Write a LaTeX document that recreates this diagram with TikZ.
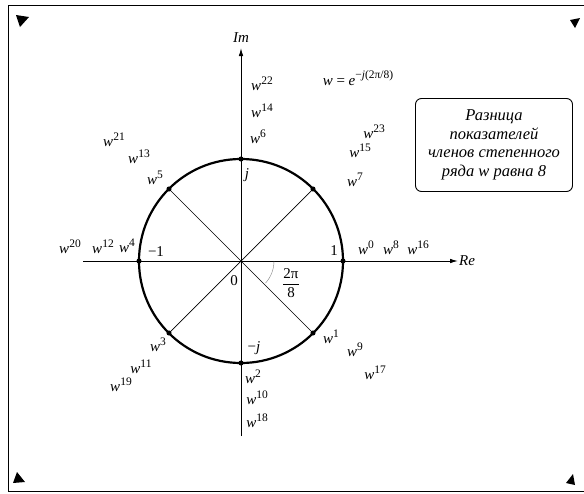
\documentclass[tikz,border=0pt]{standalone}
\usepackage{amsmath}
\usepackage{fontspec}
\setmainfont{Liberation Serif}
\usetikzlibrary{arrows.meta, positioning}
\newcommand{\supx}[1]{\raisebox{0.42em}{\fontsize{11.5}{12}\selectfont #1}}
\newcommand{\wpow}[1]{\textit{w}\supx{#1}}

\begin{document}
\begin{tikzpicture}[x=1pt, y=-1pt, font=\fontsize{15}{17}\selectfont,
    axis/.style={line width=0.9pt, -{Latex[length=8pt, width=4.5pt]}},
    spoke/.style={line width=0.7pt},
    root/.style={circle, fill, inner sep=1.8pt},
    lbl/.style={inner sep=1pt},
    cornermark/.style={fill=black}]

    \useasboundingbox (0,0) rectangle (584,493);

    % === frame and corner marks ===
    \draw[line width=0.9pt] (8,5) rectangle (600,491);
    \fill[cornermark] (16,15) -- (29,17) -- (20,27) -- cycle;
    \fill[cornermark] (570,20) -- (580,18) -- (575,28) -- cycle;
    \fill[cornermark] (13,483) -- (17,472) -- (25,482) -- cycle;
    \fill[cornermark] (566,483) -- (573,474) -- (575,485) -- cycle;

    % === axes ===
    \coordinate (O) at (241,261);
    \coordinate (reS) at (83,261);
    \coordinate (reE) at (458,261);
    \coordinate (imS) at (241,436);
    \coordinate (imE) at (241,48);
    \draw[axis] (reS) -- (reE);
    \draw[axis] (imS) -- (imE);
    \node[lbl, right=0pt of reE] (re) {\textit{Re}};
    \node[lbl, above=4pt of imE] (im) {\textit{Im}};

    % === unit circle and the eight roots ===
    \draw[line width=2.2pt] (O) circle (102);
    \node[root] (w0) at (343,261) {};
    \node[root] (w1) at (313,333) {};
    \node[root] (w2) at (241,363) {};
    \node[root] (w3) at (169,333) {};
    \node[root] (w4) at (139,261) {};
    \node[root] (w5) at (169,189) {};
    \node[root] (w6) at (241,159) {};
    \node[root] (w7) at (313,189) {};
    \draw[spoke] (w5.center) -- (w1.center);
    \draw[spoke] (w7.center) -- (w3.center);

    % angle 2pi/8
    \draw[gray, thin] (274,261) arc[start angle=0, end angle=42, radius=33];
    \node[lbl] (ang) at (291,283) {$\dfrac{\mbox{2π}}{\mbox{8}}$};
    \node[lbl] (zero) at (234,281) {0};

    % === labels on the axes ===
    \node[lbl] (one) at (334,251) {1};
    \node[lbl] (mone) at (156,252) {−1};
    \node[lbl] (jj) at (247,175) {\textit{j}};
    \node[lbl] (mj) at (254,348) {−\textit{j}};

    % === powers of w ===
    \node[lbl] (p22) at (262,84) {\wpow{22}};
    \node[lbl] (p14) at (262,111) {\wpow{14}};
    \node[lbl] (p6) at (258,137) {\wpow{6}};
    \node[lbl] (p23) at (374,132) {\wpow{23}};
    \node[lbl] (p15) at (360,151) {\wpow{15}};
    \node[lbl] (p7) at (355,180) {\wpow{7}};
    \node[lbl] (p21) at (114,140) {\wpow{21}};
    \node[lbl] (p13) at (139,157) {\wpow{13}};
    \node[lbl] (p5) at (155,178) {\wpow{5}};
    \node[lbl] (p20) at (70,247) {\wpow{20}};
    \node[lbl] (p12) at (103,247) {\wpow{12}};
    \node[lbl] (p4) at (127,246) {\wpow{4}};
    \node[lbl] (p0) at (366,248) {\wpow{0}};
    \node[lbl] (p8) at (391,248) {\wpow{8}};
    \node[lbl] (p16) at (418,248) {\wpow{16}};
    \node[lbl] (p3) at (158,345) {\wpow{3}};
    \node[lbl] (p11) at (141,367) {\wpow{11}};
    \node[lbl] (p19) at (121,385) {\wpow{19}};
    \node[lbl] (p2) at (253,377) {\wpow{2}};
    \node[lbl] (p10) at (257,398) {\wpow{10}};
    \node[lbl] (p18) at (257,421) {\wpow{18}};
    \node[lbl] (p1) at (331,337) {\wpow{1}};
    \node[lbl] (p9) at (355,350) {\wpow{9}};
    \node[lbl] (p17) at (375,373) {\wpow{17}};

    % === formula and note ===
    \node[lbl] (wdef) at (358,78) {\textit{w} = \textit{e}\supx{−\textit{j}(2π/8)}};
    \node[draw, line width=0.9pt, rounded corners=6pt, align=center, inner sep=2pt,
          minimum width=157pt, minimum height=93pt,
          font=\fontsize{16.5}{18.5}\selectfont\itshape] (note) at (494,145)
        {Разница\\показателей\\членов степенного\\ряда w равна 8};

\end{tikzpicture}
\end{document}
